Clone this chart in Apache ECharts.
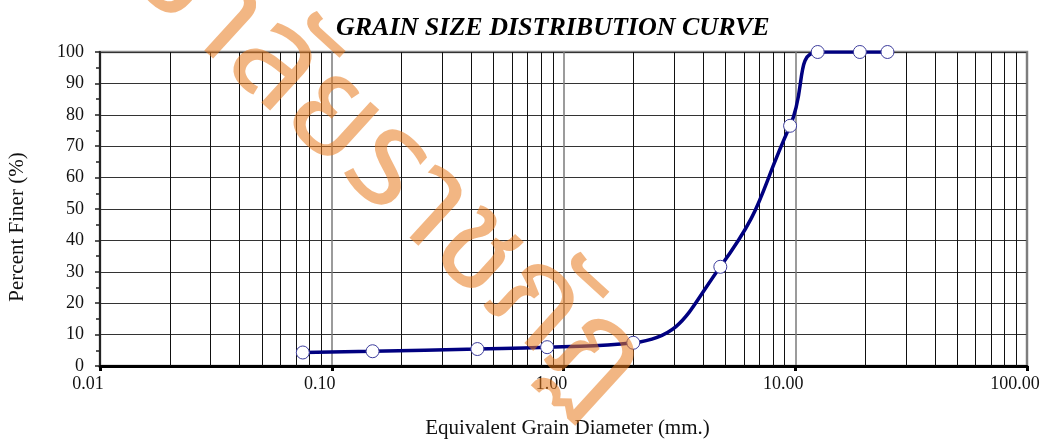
<!DOCTYPE html>
<html>
<head>
<meta charset="utf-8">
<title>Grain Size Distribution Curve</title>
<script src="https://cdn.jsdelivr.net/npm/echarts@6/dist/echarts.min.js"></script>
<style>
html,
body {
  margin: 0;
  padding: 0;
  background: #fff;
}
#grain-chart {
  height: 439px;
  width: 1044px;
}
</style>
</head>
<body>
<div id="grain-chart"></div>
<script>
// sieve sizes (mm) and percent passing
const diameters = [0.075, 0.15, 0.425, 0.85, 2.0, 4.75, 9.5, 12.5, 19, 25]
const percentFiner = [4.3, 4.7, 5.4, 6.0, 7.4, 31.6, 76.5, 100, 100, 100]

// axis ticks
const xTickLabels = ['0.01', '0.10', '1.00', '10.00', '100.00']
const yTicks = [0, 10, 20, 30, 40, 50, 60, 70, 80, 90, 100]

// log grid: 2..9 inside each decade
const decades = [0.01, 0.1, 1, 10]
const multipliers = [2, 3, 4, 5, 6, 7, 8, 9]
const minorGridX = []
decades.forEach(d => {
  multipliers.forEach(m => {
    minorGridX.push(+(d * m).toPrecision(3))
  })
})

const serif = '"Liberation Serif", "Times New Roman", serif'

const chart = echarts.init(document.querySelector('#grain-chart'))

const option = {
  animation: false,
  title: {
    text: 'GRAIN SIZE DISTRIBUTION CURVE',
    left: 331,
    top: 10,
    textStyle: {
      color: '#000',
      fontFamily: serif,
      fontSize: 26,
      fontStyle: 'italic',
      fontWeight: 'bold'
    }
  },
  grid: {
    show: true,
    left: 100,
    right: 17,
    top: 52,
    bottom: 73,
    outerBoundsMode: 'none',
    borderColor: '#888',
    borderWidth: 2.5
  },
  xAxis: {
    type: 'log',
    logBase: 10,
    min: 0.01,
    max: 100,
    name: 'Equivalent Grain Diameter (mm.)',
    nameLocation: 'middle',
    nameGap: 52,
    nameTextStyle: {
      color: '#111',
      fontFamily: serif,
      fontSize: 21,
      padding: [0, 0, 0, 8]
    },
    axisLine: {
      lineStyle: { color: '#000', width: 3 }
    },
    axisTick: {
      length: 5,
      lineStyle: { color: '#000', width: 3 }
    },
    axisLabel: {
      color: '#111',
      fontFamily: serif,
      fontSize: 18,
      margin: 9,
      // labels sit a little left of their ticks
      padding: [0, 24, 0, 0],
      formatter: v => {
        const i = Math.round(Math.log10(v)) + 2
        return xTickLabels[i] || ''
      }
    },
    splitLine: {
      show: true,
      lineStyle: { color: '#7a7a7a', width: 1.5 }
    }
  },
  yAxis: {
    type: 'value',
    min: yTicks[0],
    max: yTicks[yTicks.length - 1],
    interval: 10,
    name: 'Percent Finer (%)',
    nameLocation: 'middle',
    nameGap: 72,
    nameRotate: 90,
    nameTextStyle: {
      color: '#111',
      fontFamily: serif,
      fontSize: 21,
      padding: [0, 36, 0, 0]
    },
    axisLine: {
      show: true,
      lineStyle: { color: '#222', width: 2 }
    },
    axisTick: {
      show: true,
      length: 5,
      lineStyle: { color: '#222', width: 1.5 }
    },
    minorTick: {
      show: true,
      splitNumber: 2,
      length: 4,
      lineStyle: { color: '#222', width: 1.5 }
    },
    axisLabel: {
      color: '#111',
      fontFamily: serif,
      fontSize: 18,
      margin: 16
    },
    splitLine: {
      show: true,
      lineStyle: { color: '#333', width: 1 }
    }
  },
  series: [
    {
      // minor log grid lines
      type: 'line',
      data: [],
      silent: true,
      markLine: {
        silent: true,
        symbol: 'none',
        animation: false,
        label: { show: false },
        lineStyle: { color: '#111', width: 1, type: 'solid' },
        data: minorGridX.map(v => ({ xAxis: v }))
      }
    },
    {
      name: 'Percent Finer',
      type: 'line',
      data: diameters.map((d, i) => [d, percentFiner[i]]),
      smooth: 0.5,
      z: 5,
      symbol: 'circle',
      symbolSize: 13,
      lineStyle: { color: '#000080', width: 3.5 },
      itemStyle: {
        color: '#fff',
        borderColor: '#3c3c9c',
        borderWidth: 1
      }
    }
  ],
  graphic: [
    {
      // watermark over the chart
      type: 'text',
      x: 620,
      y: 393,
      rotation: -0.74,
      z: 100,
      silent: true,
      style: {
        text: 'มหาวิทยาลัยราชภัฏ',
        font: '135px "Noto Sans Thai", "Noto Sans", "DejaVu Sans", sans-serif',
        fill: 'rgba(232, 122, 30, 0.55)',
        textAlign: 'right',
        textVerticalAlign: 'middle'
      }
    }
  ]
}

chart.setOption(option)
</script>
</body>
</html>
